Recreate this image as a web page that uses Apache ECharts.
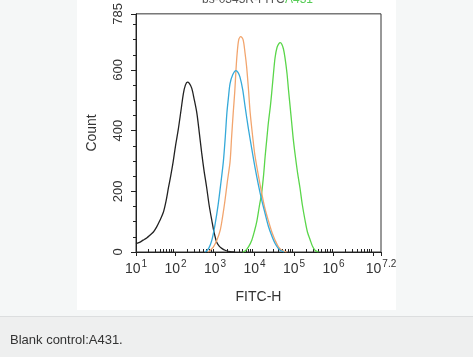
<!DOCTYPE html>
<html>
<head>
<meta charset="utf-8">
<script src="https://cdn.jsdelivr.net/npm/echarts@6/dist/echarts.min.js"></script>
<style>
html,body{margin:0;padding:0;background:#f5f7f7;}
#c{width:473px;height:357px;}
</style>
</head>
<body>
<div id="c"></div>
<script>
// x values are log10(FITC-H)
const blackCurve = [[1.0,28],[1.09,32],[1.18,39],[1.27,46],[1.35,55],[1.44,66],[1.52,82],[1.6,103],[1.69,130],[1.76,168],[1.82,211],[1.88,252],[1.94,297],[2.0,350],[2.07,404],[2.14,468],[2.20,523],[2.25,550],[2.30,560],[2.35,556],[2.41,540],[2.47,505],[2.54,458],[2.60,395],[2.66,329],[2.72,270],[2.79,211],[2.85,155],[2.92,103],[2.98,62],[3.04,33],[3.10,20],[3.17,12],[3.27,5],[3.38,1],[3.5,0]];
const blueCurve = [[2.75,0],[2.84,12],[2.92,39],[3.0,90],[3.08,157],[3.15,230],[3.21,297],[3.26,380],[3.30,458],[3.34,510],[3.38,555],[3.45,585],[3.53,598],[3.58,592],[3.63,577],[3.70,535],[3.76,480],[3.84,410],[3.93,340],[4.01,280],[4.10,220],[4.18,172],[4.27,125],[4.35,85],[4.44,52],[4.52,28],[4.60,12],[4.67,4],[4.75,0]];
const orangeCurve = [[2.83,0],[2.96,17],[3.05,40],[3.13,71],[3.19,115],[3.25,168],[3.31,230],[3.38,297],[3.42,380],[3.46,458],[3.50,530],[3.53,600],[3.56,655],[3.60,700],[3.65,710],[3.71,700],[3.76,655],[3.80,610],[3.85,530],[3.89,458],[3.97,360],[4.01,318],[4.10,250],[4.18,195],[4.26,145],[4.35,103],[4.44,65],[4.52,39],[4.60,18],[4.69,6],[4.81,0]];
const greenCurve = [[3.70,0],[3.76,3],[3.85,18],[3.93,39],[4.0,70],[4.06,103],[4.12,150],[4.18,195],[4.23,255],[4.27,318],[4.31,372],[4.35,426],[4.40,480],[4.44,533],[4.48,590],[4.52,641],[4.57,675],[4.62,688],[4.65,690],[4.69,685],[4.73,670],[4.77,641],[4.82,590],[4.86,533],[4.90,480],[4.94,426],[4.98,372],[5.03,318],[5.09,260],[5.15,211],[5.21,155],[5.28,103],[5.34,65],[5.41,39],[5.47,18],[5.53,6],[5.62,0]];

const xMin = 1, xMax = 7.2;
const yMin = 0, yMax = 785;
const yMinorTicks = [50,100,150,250,300,350,450,500,550,650,700,750];
const xMinorTicks = [];
for (let n = 1; n < 7; n++) for (let k = 2; k <= 9; k++) xMinorTicks.push(n + Math.log10(k));

const xAxisTitle = 'FITC-H';
const yAxisTitle = 'Count';
const caption = 'Blank control:A431.';
const titleMain = 'bs-0345R-FITC';
const titleSub = 'A431';

const chart = echarts.init(document.getElementById('c'), null, {renderer:'canvas'});
const fontFamily = 'Liberation Sans, Arial, sans-serif';

chart.setOption({
  animation: false,
  backgroundColor: '#f5f7f7',
  graphic: [
    {type:'rect', z:-10, shape:{x:77,y:0,width:319,height:310}, style:{fill:'#ffffff'}},
    {type:'rect', z:-10, shape:{x:0,y:316,width:473,height:41}, style:{fill:'#eeefef'}},
    {type:'rect', z:-10, shape:{x:0,y:316,width:473,height:1}, style:{fill:'#dcdedf'}},
    {type:'text', left:10, top:334, style:{text:caption, font:'13px ' + fontFamily, fill:'#333333'}},
    {type:'text', x:202, y:6, style:{text:titleMain, font:'12px ' + fontFamily, fill:'#555555', verticalAlign:'bottom'}},
    {type:'text', x:285, y:6, style:{text:titleSub, font:'12px ' + fontFamily, fill:'#55cc55', verticalAlign:'bottom'}}
  ],
  grid: {left:136, right:92, top:9, bottom:105, show:true, borderColor:'#333333', borderWidth:1, backgroundColor:'transparent'},
  xAxis: [
    {
      type:'value', min:xMin, max:xMax, interval:1,
      axisLine:{show:true, lineStyle:{color:'#222222', width:1}},
      axisTick:{show:true, length:4, lineStyle:{color:'#222222'}},
      splitLine:{show:false},
      axisLabel:{
        margin:7,
        formatter: function(v){
          if (Math.abs(v-7) < 1e-6) return '';
          const e = Math.abs(v - Math.round(v)) < 1e-6 ? String(Math.round(v)) : v.toFixed(1);
          return '{b|10}{s|' + e + '}';
        },
        rich:{
          b:{fontSize:14, fontFamily:fontFamily, color:'#333333', verticalAlign:'bottom', lineHeight:17},
          s:{fontSize:10, fontFamily:fontFamily, color:'#333333', verticalAlign:'top', padding:[0,0,8,1], lineHeight:17}
        }
      },
      name:xAxisTitle, nameLocation:'middle', nameGap:38,
      nameTextStyle:{fontSize:14, fontFamily:fontFamily, color:'#333333'}
    },
    {
      type:'value', min:xMin, max:xMax, position:'bottom',
      axisLine:{show:false},
      axisTick:{show:true, inside:true, length:3, customValues:xMinorTicks, lineStyle:{color:'#222222'}},
      axisLabel:{show:false},
      splitLine:{show:false}
    }
  ],
  yAxis: [
    {
      type:'value', min:yMin, max:yMax, interval:200,
      axisLine:{show:true, lineStyle:{color:'#222222', width:1}},
      axisTick:{show:true, length:5, lineStyle:{color:'#222222'}},
      splitLine:{show:false},
      axisLabel:{rotate:90, margin:11, fontSize:13, fontFamily:fontFamily, color:'#333333'},
      name:yAxisTitle, nameLocation:'middle', nameGap:37, nameRotate:90,
      nameTextStyle:{fontSize:14, fontFamily:fontFamily, color:'#333333'}
    },
    {
      type:'value', min:yMin, max:yMax, position:'left',
      axisLine:{show:false},
      axisTick:{show:true, length:3, customValues:yMinorTicks, lineStyle:{color:'#222222'}},
      axisLabel:{show:false},
      splitLine:{show:false}
    }
  ],
  series: [
    {type:'line', data:greenCurve, showSymbol:false, smooth:0.3, lineStyle:{color:'#5ad64a', width:1.3}, z:2},
    {type:'line', data:blackCurve, showSymbol:false, smooth:0.3, lineStyle:{color:'#222222', width:1.3}, z:2},
    {type:'line', data:orangeCurve, showSymbol:false, smooth:0.3, lineStyle:{color:'#f2a56e', width:1.3}, z:2},
    {type:'line', data:blueCurve, showSymbol:false, smooth:0.3, lineStyle:{color:'#35a9d9', width:1.3}, z:3}
  ]
});
</script>
</body>
</html>
